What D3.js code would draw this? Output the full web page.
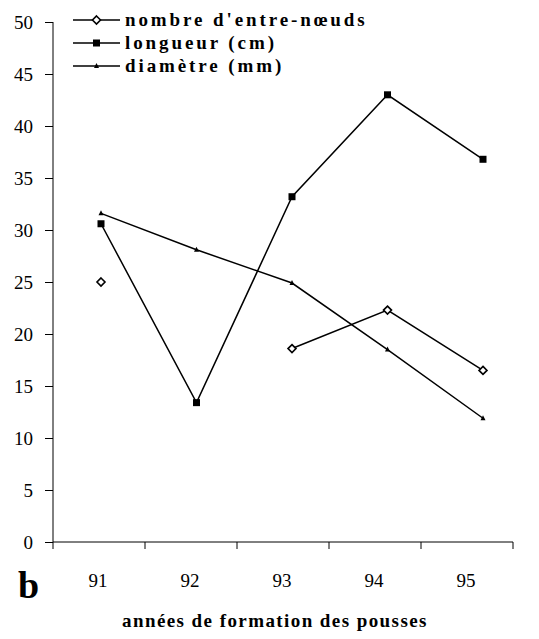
<!DOCTYPE html>
<html><head><meta charset="utf-8">
<script src="https://cdn.jsdelivr.net/npm/d3@7"></script>
</head><body>
<script>
const years = ["91","92","93","94","95"];
const nombre = [25, null, 18.6, 22.3, 16.5];
const longueur = [30.6, 13.4, 33.2, 43.0, 36.8];
const diametre = [31.6, 28.1, 24.9, 18.5, 11.9];
const yTicks = [0,5,10,15,20,25,30,35,40,45,50];
const seriesNames = ["nombre d'entre-nœuds","longueur (cm)","diamètre (mm)"];

const W=539,H=639;
const FONT=`"Liberation Serif"`;
d3.select("body").style("margin","0px");
const svg=d3.select("body").append("svg").attr("width",W).attr("height",H).style("display","block").style("font-family",FONT);
const y=d3.scaleLinear().domain([0,50]).range([542,22]);
const xBand=d3.scaleBand().domain(years).range([53,513]);
const xPt=d3.scalePoint().domain(years).range([101,483]);

// y axis
const ya=svg.append("g").attr("transform","translate(53,0)")
  .call(d3.axisLeft(y).tickValues(yTicks).tickSize(8).tickPadding(20).tickFormat(d3.format("d")));
ya.attr("font-family",null).style("font-family",FONT);
ya.select(".domain").attr("d","M0,22V542").attr("stroke","#000");
ya.selectAll("text").style("font-family",FONT).attr("font-size",19).attr("fill","#000").attr("x",-20).attr("dy","0.34em");
ya.selectAll("line").attr("stroke","#000");

// x axis
const xa=svg.append("g").attr("transform","translate(0,542)")
  .call(d3.axisBottom(xBand).tickSize(0).tickPadding(0));
xa.attr("font-family",null).style("font-family",FONT);
xa.select(".domain").attr("d","M53,0H513").attr("stroke","#000");
xa.selectAll("text").style("font-family",FONT).attr("font-size",19).attr("fill","#000").attr("dy",null).attr("y",45).attr("dx",-1);
const bounds=[...years.map(d=>xBand(d)), xBand(years[4])+xBand.bandwidth()];
svg.append("g").selectAll("line").data(bounds).join("line")
  .attr("x1",d=>d).attr("x2",d=>d).attr("y1",542).attr("y2",549).attr("stroke","#000");

const line=d3.line().defined(d=>d.v!=null).x(d=>xPt(d.k)).y(d=>y(d.v));
const mk=arr=>years.map((k,i)=>({k,v:arr[i]}));
const data=[mk(nombre),mk(longueur),mk(diametre)];
data.forEach(s=>svg.append("path").attr("d",line(s)).attr("fill","none").attr("stroke","#000").attr("stroke-width",1.5));

function marker(g,type,cx,cy){
  if(type===0){
    g.append("path").attr("d",`M${cx},${cy-4}L${cx+4},${cy}L${cx},${cy+4}L${cx-4},${cy}Z`)
     .attr("fill","#fff").attr("stroke","#000").attr("stroke-width",1.6);
  } else if(type===1){
    g.append("rect").attr("x",cx-3.5).attr("y",cy-3.5).attr("width",7).attr("height",7).attr("fill","#000");
  } else {
    g.append("path").attr("d",`M${cx},${cy-3}L${cx+2.5},${cy+2}L${cx-2.5},${cy+2}Z`).attr("fill","#000");
  }
}
const mg=svg.append("g");
data.forEach((s,t)=>s.filter(d=>d.v!=null).forEach(d=>marker(mg,t,xPt(d.k),y(d.v))));

// legend
const ly=[20,43,66];
seriesNames.forEach((n,i)=>{
  svg.append("line").attr("x1",73).attr("x2",120).attr("y1",ly[i]).attr("y2",ly[i]).attr("stroke","#000").attr("stroke-width",1.5);
  marker(svg,i,96.5,ly[i]);
  svg.append("text").attr("x",125).attr("y",ly[i]+6).style("font-family",FONT).attr("font-weight","bold")
    .attr("font-size",19).attr("letter-spacing",2.9).text(n);
});

svg.append("text").attr("x",18).attr("y",598).style("font-family",FONT).attr("font-weight","bold").attr("font-size",38).text("b");
svg.append("text").attr("x",122).attr("y",627).style("font-family",FONT).attr("font-weight","bold").attr("font-size",19).attr("letter-spacing",1.5).attr("textLength",306).text("années de formation des pousses");
</script>
</body></html>
